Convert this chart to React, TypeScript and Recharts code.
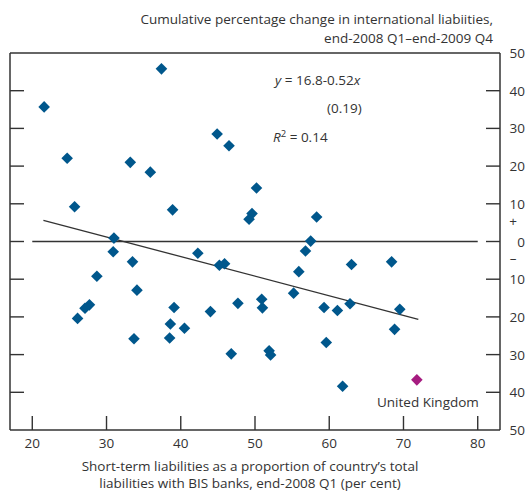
import React from 'react';
import { ScatterChart, Scatter, XAxis, YAxis, ReferenceLine } from 'recharts';

// x: short-term liabilities share (%), y: cumulative % change in international liabilities
const countryX = [
  21.6, 37.4, 24.7, 33.2, 35.9, 44.9, 46.5, 25.7, 38.9, 50.2, 49.6, 49.2, 31.0, 58.3, 57.5,
  30.9, 33.5, 28.7, 34.1, 42.3, 45.2, 45.9, 27.7, 27.1, 26.1, 39.1, 38.6, 40.5, 38.5, 33.7,
  44.0, 47.7, 46.8, 50.9, 51.0, 51.9, 52.1, 56.8, 55.9, 55.2, 63.0, 68.4, 59.3, 61.1, 62.8,
  69.5, 68.8, 59.6, 61.8,
];
const countryY = [
  35.7, 45.8, 22.1, 21.0, 18.4, 28.5, 25.4, 9.2, 8.4, 14.2, 7.4, 5.9, 0.9, 6.5, 0.1,
  -2.7, -5.4, -9.2, -12.9, -3.1, -6.3, -5.9, -16.8, -17.7, -20.4, -17.5, -21.9, -23.0, -25.6, -25.8,
  -18.6, -16.4, -29.8, -15.3, -17.6, -29.0, -30.1, -2.5, -8.0, -13.7, -6.1, -5.4, -17.5, -18.3, -16.5,
  -18.0, -23.3, -26.8, -38.4,
];
const ukX = [71.8];
const ukY = [-36.7];

const xTicks = [20, 30, 40, 50, 60, 70, 80];
const yTicks = [-50, -40, -30, -20, -10, -5, 0, 5, 10, 20, 30, 40, 50];

// regression y = 16.8 - 0.52x, drawn over the fitted range
const fitIntercept = 16.8;
const fitSlope = -0.52;
const fitRange = [21.5, 72];

const countries = countryX.map((x, i) => ({ x, y: countryY[i] }));
const uk = ukX.map((x, i) => ({ x, y: ukY[i] }));

const BLUE = '#00578c';
const MAGENTA = '#a61c80';
const INK = '#333333';
const FONT = '"Open Sans", sans-serif';
const FS = 13.5;

const Diamond = ({ cx, cy, fill }: any) => (
  <path d={`M${cx},${cy - 5.8}L${cx + 5.8},${cy}L${cx},${cy + 5.8}L${cx - 5.8},${cy}Z`} fill={fill} />
);

const LeftTick = ({ x, y, payload }: any) => {
  const v = payload.value;
  if (Math.abs(v) >= 50 || Math.abs(v) === 5) return <g />;
  return <line x1={x} x2={x + 14} y1={y} y2={y} stroke={INK} strokeWidth={1.4} />;
};

const RightTick = ({ x, y, payload }: any) => {
  const v = payload.value;
  if (Math.abs(v) === 5) {
    return (
      <text x={x + 13} y={y + 3} textAnchor='middle' fontSize={FS} fill={INK} fontFamily={FONT}>
        {v > 0 ? '+' : '\u2013'}
      </text>
    );
  }
  return (
    <g>
      {Math.abs(v) < 50 && <line x1={x - 14} x2={x} y1={y} y2={y} stroke={INK} strokeWidth={1.4} />}
      <text x={x + 25} y={y + 5} textAnchor='end' fontSize={FS} fill={INK} fontFamily={FONT}>
        {Math.abs(v)}
      </text>
    </g>
  );
};

const BottomTick = ({ x, y, payload }: any) => (
  <g>
    <line x1={x} x2={x} y1={y - 14} y2={y} stroke={INK} strokeWidth={1.4} />
    <text x={x} y={y + 18} textAnchor='middle' fontSize={FS} fill={INK} fontFamily={FONT}>
      {payload.value}
    </text>
  </g>
);

export default function App() {
  const fitLine = fitRange.map((x) => ({ x, y: fitIntercept + fitSlope * x }));
  return (
    <div style={{ position: 'absolute', left: 0, top: 0, width: 528, height: 492, background: '#fff' }}>
      <ScatterChart width={528} height={492} margin={{ top: 52, right: 27, bottom: 61, left: 9 }}>
        <XAxis
          dataKey='x'
          type='number'
          domain={[17, 83]}
          ticks={xTicks}
          interval={0}
          height={1}
          tickSize={0}
          tickMargin={0}
          tick={<BottomTick />}
          axisLine={{ stroke: INK, strokeWidth: 1.5 }}
          allowDataOverflow
        />
        <XAxis
          xAxisId='top'
          orientation='top'
          type='number'
          domain={[17, 83]}
          height={1}
          tick={false}
          tickLine={false}
          axisLine={{ stroke: INK, strokeWidth: 1.5 }}
        />
        <YAxis
          dataKey='y'
          type='number'
          domain={[-50, 50]}
          ticks={yTicks}
          interval={0}
          width={1}
          tickSize={0}
          tickMargin={0}
          tick={<LeftTick />}
          axisLine={{ stroke: INK, strokeWidth: 1.5 }}
          allowDataOverflow
        />
        <YAxis
          yAxisId='right'
          orientation='right'
          dataKey='y'
          type='number'
          domain={[-50, 50]}
          ticks={yTicks}
          interval={0}
          width={1}
          tickSize={0}
          tickMargin={0}
          tick={<RightTick />}
          axisLine={{ stroke: INK, strokeWidth: 1.5 }}
          allowDataOverflow
        />
        <ReferenceLine segment={[{ x: 20, y: 0 }, { x: 80, y: 0 }]} stroke={INK} strokeWidth={1.3} />
        <ReferenceLine segment={fitLine} stroke={INK} strokeWidth={1.3} />
        <Scatter data={countries} fill={BLUE} shape={<Diamond />} isAnimationActive={false} />
        <Scatter data={uk} yAxisId='right' fill={MAGENTA} shape={<Diamond />} isAnimationActive={false} />
      </ScatterChart>
      <svg width={528} height={492} style={{ position: 'absolute', left: 0, top: 0, pointerEvents: 'none' }}>
        <g fontFamily={FONT} fontSize={FS} fill={INK}>
          <text x={493} y={24} textAnchor='end'>Cumulative percentage change in international liabiities,</text>
          <text x={493} y={43} textAnchor='end'>end-2008 Q1–end-2009 Q4</text>
          <text x={275} y={85}>
            <tspan fontStyle='italic'>y</tspan> = 16.8-0.52<tspan fontStyle='italic'>x</tspan>
          </text>
          <text x={327} y={113}>(0.19)</text>
          <text x={273} y={142}>
            <tspan fontStyle='italic'>R</tspan>
            <tspan dy={-5} fontSize={9.5}>2</tspan>
            <tspan dy={5}> = 0.14</tspan>
          </text>
          <text x={377} y={407}>United Kingdom</text>
          <text x={250} y={471} textAnchor='middle'>Short-term liabilities  as a proportion of country’s total</text>
          <text x={250} y={488} textAnchor='middle'>liabilities with BIS banks, end-2008 Q1 (per cent)</text>
        </g>
      </svg>
    </div>
  );
}
